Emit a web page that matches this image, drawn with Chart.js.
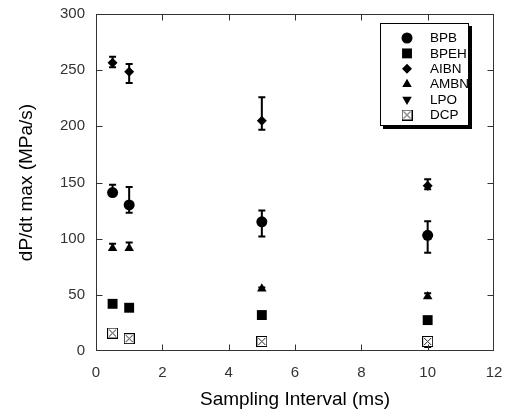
<!DOCTYPE html>
<html>
<head>
<meta charset="utf-8">
<script src="https://cdn.jsdelivr.net/npm/chart.js@4/dist/chart.umd.min.js"></script>
<style>
html,body{margin:0;padding:0;background:#fff;}
#wrap{width:505px;height:412px;position:relative;}
</style>
</head>
<body>
<div id="wrap"><canvas id="c" width="505" height="412"></canvas></div>
<script>
// ---- data ----
const intervals = [0.5, 1, 5, 10];
const xTicks = [0, 2, 4, 6, 8, 10, 12];
const yTicks = [0, 50, 100, 150, 200, 250, 300];

const bpb = [141, 130, 115, 103];
const bpbUp = [7, 16, 10, 12.5];
const bpbDown = [3, 7, 13, 15.5];

const bpeh = [42, 38.5, 32, 27.5];
const bpehUp = [3, 0, 0, 0];
const bpehDown = [0, 0, 0, 0];

const aibn = [256.5, 248.5, 205, 147];
const aibnUp = [5.5, 7, 21, 6];
const aibnDown = [4, 10, 8, 3];

const ambn = [91.5, 91.5, 55.5, 48.5];
const ambnUp = [4, 5, 1, 3];
const ambnDown = [0, 0, 0, 0];

const lpo = [];
const lpoUp = [];
const lpoDown = [];

const dcp = [16, 11, 8.5, 8.5];
const dcpUp = [0, 0, 0, 0];
const dcpDown = [0, 0, 0, 5];

// crossed-box marker for DCP
function crossBox(){
  const cv = document.createElement('canvas');
  cv.width = 11; cv.height = 11;
  const g = cv.getContext('2d');
  g.fillStyle = '#fff'; g.fillRect(0,0,11,11);
  g.strokeStyle = '#000'; g.lineWidth = 1;
  g.strokeRect(0.5,0.5,10,10);
  g.strokeStyle = '#222';
  g.beginPath(); g.moveTo(2,2); g.lineTo(9,9); g.moveTo(9,2); g.lineTo(2,9); g.stroke();
  return cv;
}
const dcpMarker = crossBox();

function pts(vals, up, down){
  return vals.map((v,i)=>({x: intervals[i], y: v, up: up[i], down: down[i]}));
}
function ds(label, vals, up, down, style, radius, rotation){
  return {label, data: pts(vals, up, down), pointStyle: style, pointRadius: radius,
    pointHoverRadius: radius, pointRotation: rotation||0,
    backgroundColor:'#000', borderColor:'#000', borderWidth:0, showLine:false};
}
const datasets = [
  ds('BPB', bpb, bpbUp, bpbDown, 'circle', 5.5),
  ds('BPEH', bpeh, bpehUp, bpehDown, 'rect', 7),
  ds('AIBN', aibn, aibnUp, aibnDown, 'rectRot', 5),
  ds('AMBN', ambn, ambnUp, ambnDown, 'triangle', 5.5),
  ds('LPO', lpo, lpoUp, lpoDown, 'triangle', 5.5, 180),
  ds('DCP', dcp, dcpUp, dcpDown, dcpMarker, 5.5)
];

const errorBars = {
  id:'errorBars',
  beforeDatasetsDraw(chart){
    const {ctx, scales:{x, y}} = chart;
    ctx.save();
    ctx.strokeStyle = '#000'; ctx.lineWidth = 2;
    chart.data.datasets.forEach(d=>{
      d.data.forEach(p=>{
        const px = x.getPixelForValue(p.x);
        const py = y.getPixelForValue(p.y);
        const cap = 3.5;
        if (p.up > 0){
          const t = y.getPixelForValue(p.y + p.up);
          ctx.beginPath(); ctx.moveTo(px, py); ctx.lineTo(px, t);
          ctx.moveTo(px-cap, t); ctx.lineTo(px+cap, t); ctx.stroke();
        }
        if (p.down > 0){
          const b = y.getPixelForValue(p.y - p.down);
          ctx.beginPath(); ctx.moveTo(px, py); ctx.lineTo(px, b);
          ctx.moveTo(px-cap, b); ctx.lineTo(px+cap, b); ctx.stroke();
        }
      });
    });
    ctx.restore();
  }
};

const frame = {
  id:'frame',
  afterDatasetsDraw(chart){
    const {ctx, chartArea:a, scales:{x, y}} = chart;
    ctx.save();
    ctx.strokeStyle = '#333'; ctx.lineWidth = 1;
    const L = Math.round(a.left)+0.5, R = Math.round(a.right)-0.5,
          T = Math.round(a.top)+0.5, B = Math.round(a.bottom)-0.5;
    ctx.strokeRect(L, T, R-L, B-T);
    const tl = 6;
    ctx.beginPath();
    xTicks.slice(1,-1).forEach(v=>{
      const px = Math.round(x.getPixelForValue(v))+0.5;
      ctx.moveTo(px, B); ctx.lineTo(px, B-tl);
      ctx.moveTo(px, T); ctx.lineTo(px, T+tl);
    });
    yTicks.slice(1,-1).forEach(v=>{
      const py = Math.round(y.getPixelForValue(v))+0.5;
      ctx.moveTo(L, py); ctx.lineTo(L+tl, py);
      ctx.moveTo(R, py); ctx.lineTo(R-tl, py);
    });
    ctx.stroke();
    ctx.restore();
  },
  afterDraw(chart){
    // legend box
    const {ctx, chartArea:a} = chart;
    const bx = a.right - 114, by = a.top + 9, bw = 89, bh = 103;
    ctx.save();
    ctx.fillStyle = '#000';
    ctx.fillRect(bx+3, by+3, bw, bh);
    ctx.fillStyle = '#fff';
    ctx.fillRect(bx, by, bw, bh);
    ctx.strokeStyle = '#000'; ctx.lineWidth = 1;
    ctx.strokeRect(bx+0.5, by+0.5, bw-1, bh-1);
    ctx.font = '13.5px "Liberation Sans", Arial, sans-serif';
    ctx.textBaseline = 'middle';
    ctx.textAlign = 'left';
    chart.data.datasets.forEach((d,i)=>{
      const cy = by + 15 + i*15.4;
      const cx = bx + 27;
      ctx.fillStyle = '#000'; ctx.strokeStyle = '#000';
      Chart.helpers.drawPoint(ctx, {pointStyle: d.pointStyle, radius: d.pointRadius,
        rotation: d.pointRotation, borderWidth: 0}, cx, cy);
      ctx.fillStyle = '#000';
      ctx.fillText(d.label, bx + 50, cy + 0.5);
    });
    ctx.restore();
  }
};

const tickFont = {family:'"Liberation Sans", Arial, sans-serif', size:15};
const titleFont = {family:'"Liberation Sans", Arial, sans-serif', size:19};

new Chart(document.getElementById('c'), {
  type:'scatter',
  data:{datasets},
  options:{
    responsive:false, animation:false, devicePixelRatio:1,
    layout:{padding:{top:14, right:11, left:0, bottom:0}},
    plugins:{legend:{display:false}, tooltip:{enabled:false}},
    scales:{
      x:{type:'linear', min:0, max:12,
        afterBuildTicks(s){ s.ticks = xTicks.map(v=>({value:v})); },
        afterFit(s){ s.height = 61; s.paddingLeft = 0; s.paddingRight = 0; },
        grid:{display:false, drawTicks:false},
        border:{display:false},
        ticks:{font:tickFont, color:'#333', padding:13},
        title:{display:true, text:'Sampling Interval (ms)', font:titleFont, color:'#000', padding:{top:0,bottom:1}}
      },
      y:{type:'linear', min:0, max:300,
        afterBuildTicks(s){ s.ticks = yTicks.map(v=>({value:v})); },
        afterFit(s){ s.width = 96; s.paddingTop = 0; s.paddingBottom = 0; },
        grid:{display:false, drawTicks:false},
        border:{display:false},
        ticks:{font:tickFont, color:'#333', padding:11},
        title:{display:true, text:'dP/dt max (MPa/s)', font:titleFont, color:'#000', padding:{top:15,bottom:0}}
      }
    }
  },
  plugins:[errorBars, frame]
});
</script>
</body>
</html>
